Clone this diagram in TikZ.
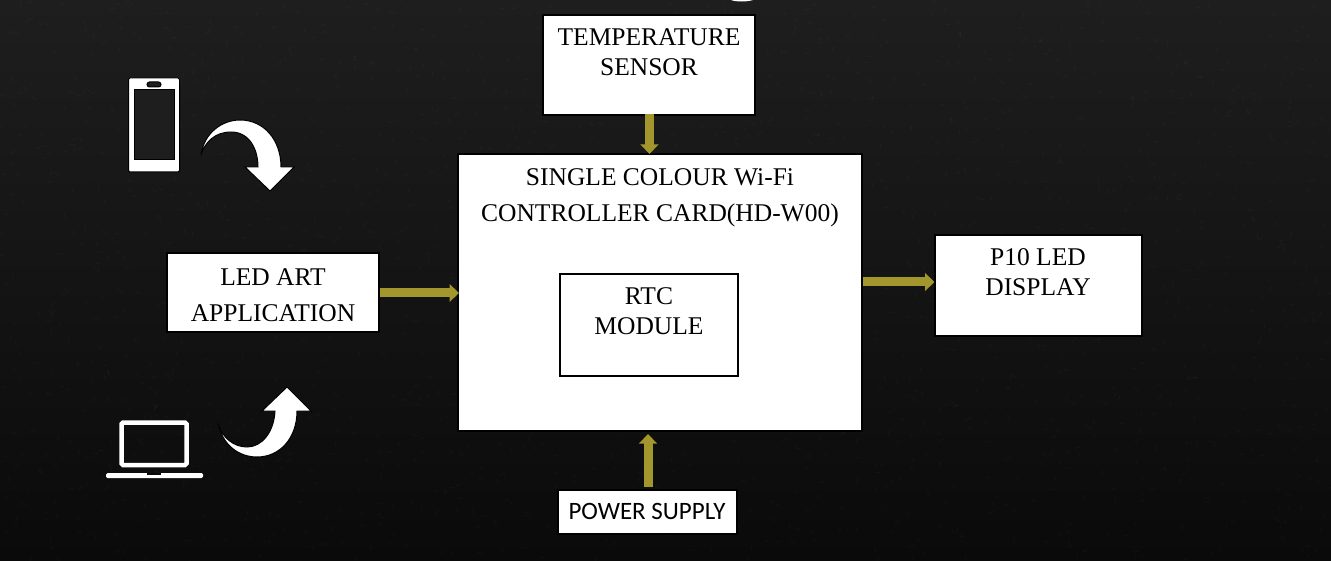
\documentclass[tikz,border=0pt]{standalone}
\usepackage{fontspec}
\setmainfont{Liberation Serif}
\newfontfamily\calibrifont{Carlito}
\usetikzlibrary{arrows.meta,calc}
\definecolor{bgtop}{HTML}{1E1E1E}
\definecolor{bgbot}{HTML}{0A0A0A}
\definecolor{olive}{HTML}{A3962C}
\tikzset{
  x=1pt,y=-1pt,
  box/.style={draw=black,line width=2pt,fill=white,text=black,inner sep=0pt,align=center},
  boxtext/.style={align=center,text=black,inner sep=0pt,font=\fontsize{25.5}{30}\selectfont},
  widetext/.style={boxtext,font=\fontsize{25.5}{36}\selectfont},
  link/.style={draw=olive,line width=9pt,-{Triangle[length=9.5pt,width=17.5pt,fill=olive]}},
  icon/.style={fill=white,draw=black,line width=1pt,line join=miter},
  grain/.style={white,opacity=.025,line width=1.2pt},
}
\begin{document}
\begin{tikzpicture}
\useasboundingbox (0,0) rectangle (1331,561);
\shade[top color=bgtop,bottom color=bgbot] (0,0) rectangle (1331,561);
% surface grain
\pgfmathsetseed{42}
\begin{scope}
\clip (0,0) rectangle (1331,561);
\foreach \n in {1,...,1800}{
  \pgfmathsetmacro{\gx}{1331*rnd}
  \pgfmathsetmacro{\gy}{561*rnd}
  \pgfmathsetmacro{\ga}{360*rnd}
  \draw[grain] (\gx,\gy) -- ++(\ga:5);
}
\end{scope}
% sliver of a white shape cut by the top edge
\fill[white] (731,0) .. controls (736,2) and (747,2) .. (753,0) -- cycle;

% boxes
\node[box,minimum width=212pt,minimum height=100pt] (temp) at (649,65) {};
\node[boxtext] (temptext) at (649,52.5) {TEMPERATURE\\SENSOR};
\node[box,minimum width=404pt,minimum height=277pt] (main) at (660,292.5) {};
\node[widetext] (maintext) at (660,198) {SINGLE COLOUR Wi-Fi\\CONTROLLER CARD(HD-W00)};
\node[box,minimum width=178pt,minimum height=102pt] (rtc) at (649,325) {};
\node[boxtext] (rtctext) at (649,311.5) {RTC\\MODULE};
\node[box,minimum width=212pt,minimum height=79pt] (led) at (273,292.5) {};
\node[widetext] (ledtext) at (273,295.5) {LED ART\\APPLICATION};
\node[box,minimum width=207pt,minimum height=101pt] (display) at (1038,286) {};
\node[boxtext] (displaytext) at (1038,272) {P10 LED\\DISPLAY};
\node[box,minimum width=179pt,minimum height=44pt,font=\calibrifont\fontsize{25}{28}\selectfont] (power) at (647,511.5) {\raisebox{-1pt}{POWER SUPPLY}};

% connectors
\coordinate (ledport) at ([yshift=-0.5pt]led.east);
\coordinate (outport) at (0,282);
\coordinate (tempport) at ([xshift=0.5pt]temp.south);
\coordinate (powerport) at ([xshift=1pt]power.north);
\draw[link,shorten >=-2pt] (ledport) -- (ledport -| main.west);
\draw[link,shorten >=-1pt] (outport -| main.east) -- (outport -| display.west);
\draw[link,shorten <=-2pt,shorten >=-1pt] (tempport) -- (tempport |- main.north);
\draw[link,shorten <=2pt,shorten >=2pt] (powerport) -- (powerport |- main.south);

% phone
\fill[icon,rounded corners=1.5pt] (128.5,78) rectangle (179.5,172);
\filldraw[fill=bgtop,draw=black,line width=1pt] (134,90) rectangle (174,159.5);
\filldraw[fill=bgtop,draw=black,line width=1pt,rounded corners=2.5pt] (147,82) rectangle (161,87);

% curved arrow down
\fill[icon] (201,155) .. controls (204,133) and (222,120) .. (240,120)
  .. controls (264,120) and (281,140) .. (281,167)
  -- (294,167) -- (270,191) -- (245,167) -- (258,167)
  .. controls (258,150) and (250,132) .. (231,132)
  .. controls (215,132) and (205,142) .. cycle;

% curved arrow up
\fill[icon] (218,423) .. controls (222,444) and (238,457) .. (257,457)
  .. controls (280,457) and (297,438) .. (297,411)
  -- (311,411) -- (287,387) -- (262,411) -- (275,411)
  .. controls (274,432) and (262,447) .. (247,447)
  .. controls (234,447) and (222,438) .. cycle;

% laptop
\draw[white,line width=4.5pt,rounded corners=1.5pt] (121.5,422.5) rectangle (186.5,465);
\fill[white,rounded corners=1.5pt] (106,473) rectangle (203,478);
\fill[bgbot] (147,473) rectangle (161,475);
\end{tikzpicture}
\end{document}
